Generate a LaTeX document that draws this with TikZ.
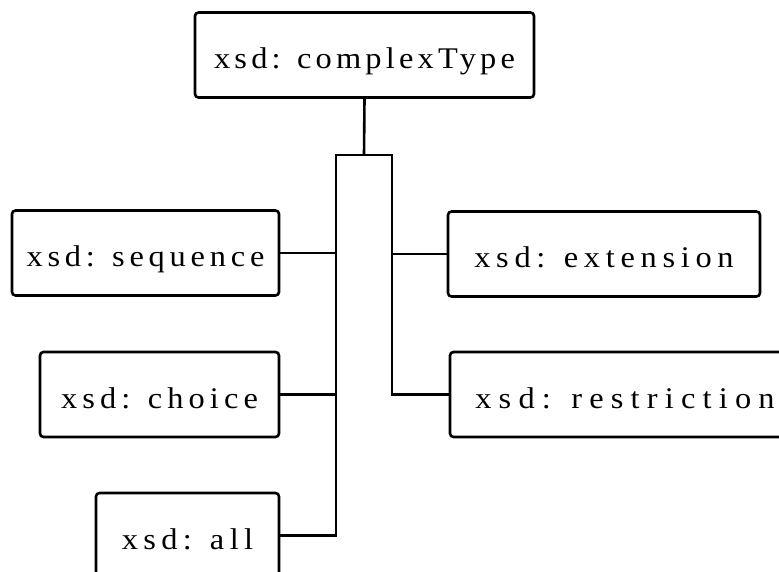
\documentclass[tikz,border=0pt]{standalone}
\usepackage{fontspec}
\setmainfont[FakeStretch=1.08]{Liberation Serif}
\newcommand{\lsp}[2]{{\addfontfeature{LetterSpace=#1}#2}}
\begin{document}
\begin{tikzpicture}[x=1pt,y=1pt,
  box/.style={draw,line width=2.6pt,rounded corners=3.5pt,inner sep=0pt,
    text height=29pt,text depth=1pt,minimum height=85pt,
    font=\fontsize{30}{33}\selectfont},
  conn/.style={line width=2.6pt}]
\useasboundingbox (0,0) rectangle (779,571);
\node[box,minimum width=339pt] (ct) at (364.5,516) {\lsp{14}{xsd: complexType}};
\node[box,minimum width=267pt] (seq) at (145.5,318) {\lsp{16}{xsd: sequence}};
\node[box,minimum width=239pt] (cho) at (159.5,176.5) {\lsp{17}{xsd: choice}};
\node[box,minimum width=183pt] (all) at (187.5,35.5) {\lsp{18}{xsd: all}};
\node[box,minimum width=312pt] (ext) at (604,317) {\lsp{19}{xsd: extension}};
\node[box,minimum width=350pt] (res) at (625,176.5) {\lsp{24}{xsd: restriction}};
\coordinate (bl) at (336,416);
\coordinate (br) at (392,416);
\coordinate (bt) at (364,416);
\draw[conn] (ct.south) -- (bt);
\draw[conn] (all.east) -| (bl) -- (br) |- (res.west);
\draw[conn] (seq.east) -- (seq.east -| bl);
\draw[conn] (cho.east) -- (cho.east -| bl);
\draw[conn] (ext.west) -- (ext.west -| br);
\end{tikzpicture}
\end{document}
